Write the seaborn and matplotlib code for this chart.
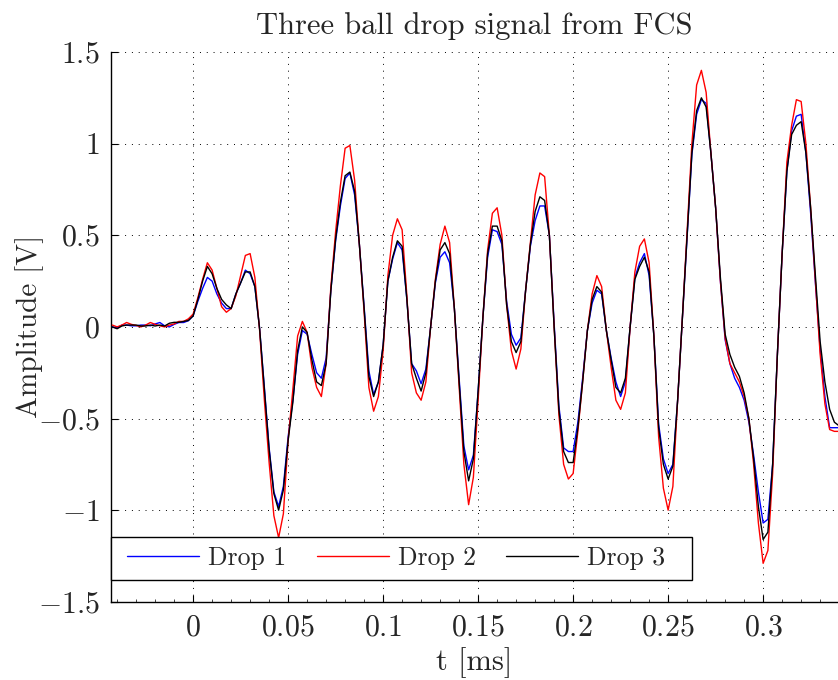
import numpy as np
import pandas as pd
import matplotlib
matplotlib.use("Agg")
import matplotlib.pyplot as plt
from matplotlib.ticker import MultipleLocator, FuncFormatter
from matplotlib.patches import Rectangle
import seaborn as sns

# ---- data ----
sample_period_ms = 0.0025
first_sample_index = -17

drop1 = [0.0, -0.006, 0.01, 0.01, 0.006, 0.006, 0.01, 0.01, 0.006, 0.016, 0.024, 0.006, 0.0, 0.014, 0.024, 0.024, 0.034,
         0.06, 0.14, 0.21, 0.27, 0.25, 0.18, 0.13, 0.10, 0.10, 0.18, 0.24, 0.31, 0.29, 0.22, -0.01, -0.33, -0.66, -0.90, -0.98, -0.87,
         -0.60, -0.40, -0.15, -0.02, -0.04, -0.15, -0.25, -0.28, -0.17, 0.20, 0.47, 0.66, 0.81, 0.84, 0.72, 0.45, 0.11, -0.24, -0.37, -0.30,
         -0.10, 0.25, 0.37, 0.46, 0.42, 0.15, -0.20, -0.24, -0.31, -0.23, 0.0, 0.24, 0.38, 0.41, 0.35, 0.10, -0.28, -0.65, -0.78, -0.70,
         -0.35, 0.05, 0.38, 0.53, 0.52, 0.45, 0.14, -0.04, -0.10, -0.06, 0.20, 0.44, 0.58, 0.66, 0.66, 0.50, 0.02, -0.43, -0.66, -0.68,
         -0.68, -0.52, -0.28, -0.02, 0.13, 0.20, 0.18, -0.02, -0.17, -0.30, -0.38, -0.30, 0.0, 0.27, 0.35, 0.40, 0.28, -0.05, -0.53, -0.72,
         -0.80, -0.75, -0.40, 0.05, 0.50, 0.94, 1.16, 1.24, 1.22, 0.95, 0.65, 0.25, -0.07, -0.20, -0.28, -0.33, -0.40, -0.52, -0.70, -0.90,
         -1.07, -1.05, -0.75, -0.15, 0.40, 0.85, 1.07, 1.15, 1.16, 0.95, 0.62, 0.24, -0.12, -0.38, -0.55, -0.55, -0.55]

drop2 = [0.01, 0.0, 0.01, 0.024, 0.014, 0.008, 0.0, 0.01, 0.024, 0.014, 0.006, 0.0, 0.01, 0.016, 0.03, 0.03, 0.044,
         0.07, 0.16, 0.26, 0.35, 0.31, 0.21, 0.11, 0.08, 0.10, 0.17, 0.28, 0.39, 0.40, 0.27, -0.02, -0.40, -0.74, -1.03, -1.15, -1.02,
         -0.62, -0.34, -0.05, 0.03, -0.03, -0.22, -0.33, -0.38, -0.20, 0.22, 0.52, 0.77, 0.975, 0.99, 0.80, 0.45, 0.08, -0.33, -0.46, -0.38,
         -0.13, 0.28, 0.50, 0.59, 0.53, 0.17, -0.25, -0.36, -0.40, -0.30, 0.0, 0.26, 0.45, 0.55, 0.46, 0.10, -0.33, -0.75, -0.97, -0.82,
         -0.40, 0.05, 0.42, 0.62, 0.65, 0.50, 0.12, -0.13, -0.23, -0.12, 0.20, 0.46, 0.72, 0.84, 0.82, 0.50, 0.0, -0.48, -0.75, -0.83,
         -0.80, -0.57, -0.30, -0.02, 0.18, 0.28, 0.22, -0.02, -0.22, -0.40, -0.45, -0.36, 0.0, 0.30, 0.44, 0.48, 0.35, -0.05, -0.60, -0.88,
         -1.00, -0.87, -0.40, 0.05, 0.52, 1.00, 1.32, 1.40, 1.28, 0.95, 0.65, 0.25, -0.06, -0.20, -0.25, -0.30, -0.38, -0.50, -0.75, -1.07,
         -1.29, -1.22, -0.80, -0.15, 0.40, 0.90, 1.10, 1.24, 1.23, 1.00, 0.65, 0.25, -0.15, -0.42, -0.56, -0.57, -0.57]

drop3 = [0.0, -0.01, 0.005, 0.01, 0.01, 0.01, 0.005, 0.005, 0.01, 0.005, 0.01, 0.005, 0.02, 0.025, 0.025, 0.03, 0.035,
         0.06, 0.15, 0.25, 0.33, 0.29, 0.21, 0.15, 0.12, 0.10, 0.18, 0.24, 0.30, 0.30, 0.22, -0.01, -0.34, -0.67, -0.91, -1.00, -0.89,
         -0.62, -0.41, -0.13, 0.00, -0.03, -0.18, -0.30, -0.32, -0.20, 0.20, 0.48, 0.68, 0.825, 0.845, 0.74, 0.45, 0.10, -0.27, -0.38, -0.30,
         -0.10, 0.25, 0.38, 0.47, 0.44, 0.15, -0.20, -0.28, -0.35, -0.25, 0.0, 0.25, 0.42, 0.46, 0.40, 0.10, -0.30, -0.68, -0.84, -0.72,
         -0.35, 0.05, 0.40, 0.55, 0.55, 0.47, 0.12, -0.08, -0.14, -0.08, 0.20, 0.45, 0.63, 0.71, 0.69, 0.50, 0.0, -0.45, -0.68, -0.74,
         -0.74, -0.55, -0.30, -0.02, 0.15, 0.22, 0.19, -0.02, -0.18, -0.33, -0.36, -0.28, 0.0, 0.26, 0.33, 0.38, 0.30, -0.05, -0.55, -0.75,
         -0.83, -0.76, -0.40, 0.05, 0.50, 0.95, 1.18, 1.25, 1.20, 0.95, 0.65, 0.27, -0.04, -0.15, -0.22, -0.27, -0.36, -0.50, -0.72, -0.98,
         -1.16, -1.12, -0.75, -0.15, 0.40, 0.85, 1.05, 1.10, 1.12, 0.95, 0.65, 0.28, -0.08, -0.30, -0.45, -0.52, -0.54]

series_names = ["Drop 1", "Drop 2", "Drop 3"]
series_colors = ["#0000ff", "#ff0000", "#000000"]

x_ticks = [0, 0.05, 0.1, 0.15, 0.2, 0.25, 0.3]
y_ticks = [-1.5, -1, -0.5, 0, 0.5, 1, 1.5]
x_limits = (-0.0432, 0.3394)
y_limits = (-1.5, 1.5)

t_ms = (np.arange(len(drop1)) + first_sample_index) * sample_period_ms

df = pd.concat([
    pd.DataFrame({"t": t_ms, "v": vals, "series": name})
    for name, vals in zip(series_names, [drop1, drop2, drop3])
], ignore_index=True)

# ---- style ----
sns.set_style("white")
plt.rcParams["font.family"] = ["cmr10"]
plt.rcParams["mathtext.fontset"] = "cm"
plt.rcParams["axes.unicode_minus"] = True

fig = plt.figure(figsize=(8.38, 6.8), dpi=100)
ax = fig.add_axes([0.1325, 0.115, 0.8675, 0.8085])

sns.lineplot(data=df, x="t", y="v", hue="series", hue_order=series_names,
             palette=series_colors, linewidth=1.0, estimator=None, sort=False,
             legend=False, ax=ax, zorder=3)

ax.set_xlim(*x_limits)
ax.set_ylim(*y_limits)
ax.set_xticks(x_ticks)
ax.set_yticks(y_ticks)
ax.xaxis.set_minor_locator(MultipleLocator(0.01))

def fmt(v, pos=None):
    v = round(v, 6)
    if v == 0:
        v = 0.0
    return r"$%g$" % v

ax.xaxis.set_major_formatter(FuncFormatter(fmt))
ax.yaxis.set_major_formatter(FuncFormatter(fmt))

ax.grid(True, which="major", color="black", linestyle=(0, (1, 6)), linewidth=0.7)
ax.set_axisbelow(True)

for s in ["top", "right"]:
    ax.spines[s].set_visible(False)
for s in ["left", "bottom"]:
    ax.spines[s].set_color("black")
    ax.spines[s].set_linewidth(1.0)

ax.tick_params(axis="both", which="major", direction="in", length=5, width=0.8,
               labelsize=21.5, color="black", bottom=True, left=True)
ax.tick_params(axis="x", which="major", pad=9)
ax.tick_params(axis="y", which="major", pad=8)
ax.tick_params(axis="x", which="minor", direction="in", length=2.5, width=0.6, bottom=True)

ax.set_title("Three ball drop signal from FCS", fontsize=22, pad=13)
ax.set_xlabel("t [ms]", fontsize=22, labelpad=4)
ax.set_ylabel("Amplitude [V]", fontsize=21, labelpad=-4)

# legend frame drawn explicitly (asymmetric padding as in the reference)
frame = Rectangle((0.0, 0.0397), 0.799, 0.0787, transform=ax.transAxes,
                  facecolor="white", edgecolor="black", linewidth=1.0,
                  zorder=4, clip_on=False)
ax.add_patch(frame)

handles = ax.get_lines()[:3]
leg = ax.legend(handles, series_names, loc="center left", bbox_to_anchor=(0.022, 0.0797),
                borderaxespad=0, borderpad=0, ncol=3, fontsize=18.5, frameon=False,
                handlelength=2.8, handletextpad=0.35, columnspacing=1.19)
leg.set_zorder(5)

fig.savefig("out.png", dpi=100)
